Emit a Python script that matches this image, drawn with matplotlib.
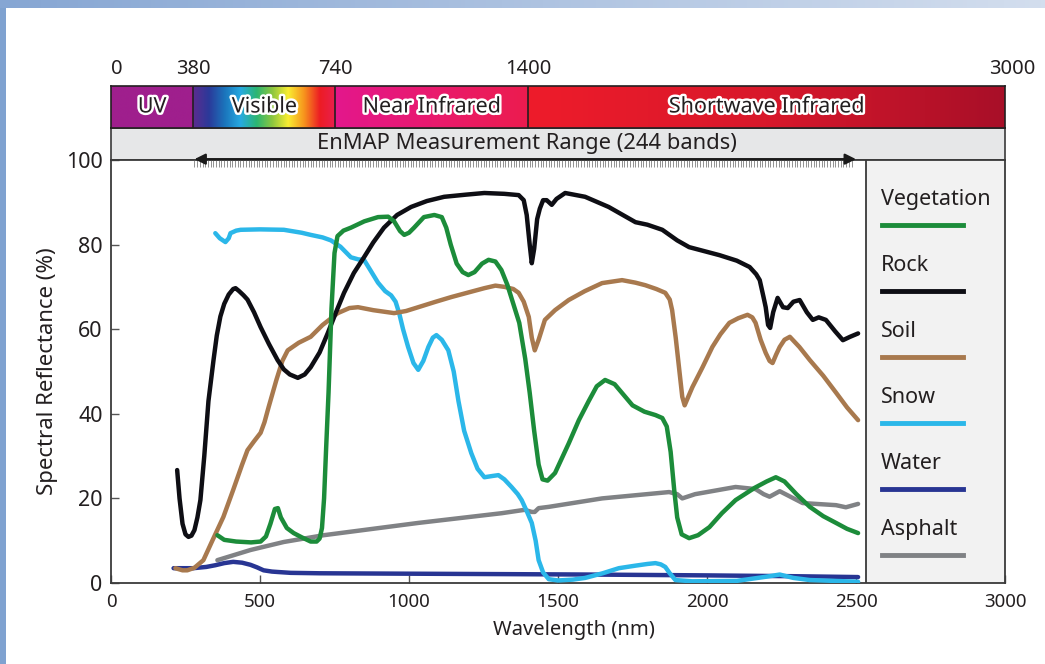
import numpy as np
import matplotlib
matplotlib.use('Agg')
import matplotlib.pyplot as plt
from matplotlib import patheffects
from matplotlib.colors import LinearSegmentedColormap
from matplotlib.lines import Line2D

plt.rcParams['font.family'] = ['Noto Sans', 'DejaVu Sans']

# spectra (wavelength nm, reflectance %)
veg_nm = [357, 380, 420, 470, 502, 520, 535, 550, 560, 570, 590, 613, 640, 670, 690,
          700, 708, 715, 722, 730, 740, 750, 760, 780, 805, 850, 896, 930, 950, 970,
          984, 1000, 1017, 1050, 1085, 1110, 1125, 1140, 1160, 1180, 1199, 1220, 1245,
          1267, 1290, 1310, 1330, 1350, 1370, 1390, 1405, 1420, 1435, 1448, 1465, 1490,
          1536, 1570, 1603, 1630, 1658, 1690, 1720, 1750, 1790, 1827, 1850, 1865, 1878,
          1890, 1900, 1915, 1940, 1970, 2008, 2050, 2096, 2160, 2200, 2231, 2260, 2300,
          2345, 2390, 2433, 2470, 2507]
veg_val = [11.3, 10.2, 9.8, 9.6, 9.8, 11, 14, 17.5, 17.7, 15.5, 13, 11.8, 10.8, 9.8, 9.8,
           10.5, 13, 20, 32, 45, 65, 78, 82, 83.3, 84, 85.5, 86.5, 86.6, 85.5, 83.2,
           82.3, 82.8, 84, 86.5, 87, 86.5, 84, 80, 75.5, 73.5, 72.8, 73.5, 75.5,
           76.4, 76, 74, 70.5, 66, 61.5, 53, 45, 36, 28, 24.5, 24.2, 26,
           33, 38.5, 43, 46.5, 48, 47, 44.5, 42, 40.5, 39.7, 39, 37, 31,
           22, 15.5, 11.5, 10.6, 11.3, 13.2, 16.5, 19.6, 22.5, 24, 25, 24, 21,
           18, 15.8, 14.2, 12.8, 11.8]

rock_nm = [222, 230, 240, 250, 260, 270, 280, 290, 300, 313, 327, 344, 355, 367, 380,
           395, 410, 418, 430, 445, 458, 480, 502, 530, 559, 580, 600, 627, 650, 670,
           700, 727, 755, 782, 815, 849, 880, 916, 960, 1007, 1060, 1118, 1190, 1253,
           1320, 1368, 1385, 1395, 1405, 1412, 1420, 1430, 1439, 1450, 1462, 1479, 1495,
           1524, 1591, 1670, 1760, 1800, 1850, 1900, 1940, 2042, 2100, 2143, 2165, 2177,
           2190, 2197, 2205, 2212, 2222, 2237, 2255, 2271, 2290, 2311, 2335, 2355, 2375,
           2399, 2430, 2456, 2480, 2507]
rock_val = [26.7, 20, 14, 11.5, 10.9, 11.2, 12.5, 15.5, 19.6, 30, 43, 52.7, 58.5, 63, 66,
            68.2, 69.5, 69.7, 69, 68, 67, 64, 60.5, 56.5, 52.7, 50.5, 49.3, 48.5, 49.3, 51,
            54.5, 59, 64, 68.6, 73.3, 77, 80.5, 84, 87, 88.9, 90.3, 91.3, 91.8, 92.2,
            92, 91.7, 90.5, 87, 80, 75.6, 79, 86, 88.5, 90.5, 90.5, 89.4, 90.8,
            92.2, 91.3, 88.9, 85.3, 84.7, 83.5, 81, 79.4, 77.5, 76.2, 74.7, 73, 71.6,
            67.5, 65.2, 61, 60.3, 64, 67.4, 65.2, 65, 66.5, 66.9, 64, 62.2, 62.8,
            62.2, 59.5, 57.4, 58.2, 59]

soil_nm = [216, 240, 256, 280, 310, 340, 377, 410, 440, 458, 480, 502, 515, 529, 555,
           575, 593, 630, 670, 710, 761, 800, 829, 880, 950, 990, 1031, 1090, 1142, 1200,
           1253, 1290, 1321, 1350, 1368, 1385, 1402, 1412, 1422, 1435, 1456, 1490, 1536,
           1590, 1648, 1715, 1760, 1793, 1830, 1860, 1875, 1883, 1895, 1906, 1917, 1925,
           1937, 1951, 1985, 2018, 2045, 2075, 2105, 2136, 2152, 2163, 2180, 2197, 2210,
           2220, 2232, 2244, 2260, 2278, 2310, 2345, 2390, 2433, 2470, 2507]
soil_val = [3.5, 3, 3, 3.6, 5.4, 10, 15.6, 22, 28, 31.4, 33.5, 35.5, 38, 41.6, 48,
            52.5, 55, 56.8, 58.2, 61, 63.8, 65, 65.2, 64.5, 63.8, 64.3, 65.2, 66.5, 67.6, 68.7,
            69.7, 70.3, 70, 69.5, 68.6, 66.5, 62.9, 58, 55, 57.5, 62.2, 64.5, 66.9,
            69, 70.9, 71.6, 71, 70.4, 69.5, 68.6, 67, 64.5, 58, 51, 44, 42,
            44, 46.3, 51, 55.8, 58.8, 61.5, 62.6, 63.4, 62.8, 61.5, 57.5, 54.4, 52.5,
            52, 54, 55.8, 57.5, 58.2, 55.8, 52.7, 49, 45, 41.5, 38.5]

snow_nm = [350, 365, 384, 395, 401, 420, 435, 500, 580, 640, 670, 710, 738, 770, 805,
           830, 849, 870, 896, 920, 940, 955, 967, 980, 997, 1015, 1031, 1048, 1065, 1080,
           1092, 1110, 1132, 1150, 1166, 1185, 1209, 1230, 1253, 1280, 1300, 1320, 1344,
           1365, 1378, 1395, 1412, 1425, 1435, 1450, 1469, 1500, 1550, 1591, 1650, 1704,
           1760, 1800, 1827, 1845, 1860, 1875, 1894, 1950, 2100, 2200, 2244, 2290, 2345,
           2507]
snow_val = [82.7, 81.5, 80.6, 81.5, 82.7, 83.3, 83.5, 83.6, 83.5, 82.8, 82.3, 81.7, 81, 79.5, 77,
            76.5, 76.4, 74, 71, 69, 68, 66.5, 63.8, 60, 55.8, 52, 50.4, 52.5, 55.8, 58,
            58.6, 57.5, 55, 50, 43, 36, 30.7, 27, 25, 25.3, 25.5, 24.5, 22.7,
            21, 19.6, 17, 14.2, 10, 5.4, 2.5, 0.9, 0.6, 0.8, 1.2, 2.3, 3.5,
            4.1, 4.5, 4.7, 4.4, 3.8, 2.3, 0.7, 0.4, 0.5, 1.5, 2.0, 1.2, 0.7,
            0.3]

water_nm = [210, 276, 320, 350, 380, 410, 440, 468, 490, 512, 540, 560, 603, 700, 1000,
            1311, 1600, 2000, 2300, 2507]
water_val = [3.5, 3.5, 3.8, 4.2, 4.7, 5.0, 4.8, 4.3, 3.7, 3.0, 2.7, 2.6, 2.4, 2.3, 2.2,
             2.1, 2.0, 1.8, 1.6, 1.4]

asph_nm = [357, 468, 580, 714, 1031, 1311, 1388, 1412, 1422, 1435, 1469, 1648, 1873,
           1900, 1917, 1960, 2096, 2163, 2190, 2210, 2244, 2321, 2433, 2466, 2507]
asph_val = [5.4, 7.8, 9.7, 11.3, 14.2, 16.5, 17.3, 16.8, 16.8, 17.7, 18, 20, 21.5,
            21, 20, 21, 22.7, 22.2, 21, 20.4, 21.7, 18.9, 18.4, 17.9, 18.7]

names = ['Vegetation', 'Rock', 'Soil', 'Snow', 'Water', 'Asphalt']
colors = ['#1c8c3a', '#0e0e14', '#a8794e', '#2bb7e9', '#283593', '#808285']
series = [(veg_nm, veg_val), (rock_nm, rock_val), (soil_nm, soil_val),
          (snow_nm, snow_val), (water_nm, water_val), (asph_nm, asph_val)]

# spectral regions bar
band_edges = [0, 380, 740, 1400, 3000]
band_names = ['UV', 'Visible', 'Near Infrared', 'Shortwave Infrared']
band_pos = [0, 0.092, 0.251, 0.467, 1.0]   # where the edges sit along the bar
measure_range = (280, 2500)
n_bands = 244

W, H = 1045, 664
INK = '#231f20'


def box(l, t, r, b):
    return [l / W, 1 - b / H, (r - l) / W, (b - t) / H]


fig = plt.figure(figsize=(W / 100, H / 100), dpi=100)
fig.patch.set_facecolor('white')

# frame decoration (blue stripes)
deco = fig.add_axes([0, 0, 1, 1], zorder=-5)
deco.set_xlim(0, W)
deco.set_ylim(H, 0)
deco.axis('off')
deco.add_patch(plt.Rectangle((0, 8), 6, H, color='#7fa2d0', lw=0))
grad = np.linspace(0, 1, 256)[None, :]
deco.imshow(grad, extent=[0, W, 8, 0], aspect='auto',
            cmap=LinearSegmentedColormap.from_list('t', ['#86a6d3', '#d3deee']))

# main axes
ax = fig.add_axes(box(111, 160, 1005, 583))
ax.set_xlim(0, 3000)
ax.set_ylim(0, 100)
for s in ax.spines.values():
    s.set_color('#3a3a3a')
    s.set_linewidth(1.3)
ax.tick_params(direction='in', length=6, width=1, color='#555555', labelcolor=INK)
ax.tick_params(axis='x', labelsize=13.5, pad=7)
ax.tick_params(axis='y', labelsize=15.5, pad=6)
ax.set_xticks(range(0, 3001, 500))
ax.set_yticks(range(0, 101, 20))
ax.set_xlabel('Wavelength (nm)', fontsize=14.5, color=INK)
ax.xaxis.set_label_coords(0.518, -0.088)
ax.set_ylabel('Spectral Reflectance (%)', fontsize=16, color=INK, labelpad=6)

# legend panel
ax.axvspan(2535, 3000, color='#f2f2f2', zorder=0, lw=0)
ax.axvline(2535, color='#3a3a3a', lw=1.3)

for (xs, ys), c in zip(series[::-1], colors[::-1]):
    ax.plot(xs, ys, color=c, lw=3.2, solid_capstyle='round', solid_joinstyle='round', zorder=3)

for i, (n, c) in enumerate(zip(names, colors)):
    yt = 0.907 - i * 0.156
    ax.text(0.861, yt, n, transform=ax.transAxes, fontsize=15.5, color=INK,
            ha='left', va='center')
    ax.add_line(Line2D([0.862, 0.953], [yt - 0.06, yt - 0.06], transform=ax.transAxes,
                       color=c, lw=3.5))

# measurement range arrow with band ticks
ax.vlines(np.linspace(measure_range[0], measure_range[1] - 15, n_bands), 98.3, 100,
          color='#666666', lw=0.5, clip_on=False, zorder=4)
ax.annotate('', xy=(measure_range[0], 100.2), xytext=(measure_range[1], 100.2),
            arrowprops=dict(arrowstyle='<|-|>', color='#1a1a1a', lw=1.6,
                            mutation_scale=16, shrinkA=0, shrinkB=0),
            annotation_clip=False, zorder=5)

# gray band with title
gax = fig.add_axes(box(111, 128, 1005, 160), zorder=-1)
gax.set_facecolor('#e6e7e8')
gax.set_xticks([])
gax.set_yticks([])
for s in gax.spines.values():
    s.set_color('#3a3a3a')
    s.set_linewidth(1.2)
gax.text(0.465, 0.5, 'EnMAP Measurement Range (244 bands)', transform=gax.transAxes,
         ha='center', va='center', fontsize=15.8, color=INK)

# spectral regions bar
bax = fig.add_axes(box(111, 86, 1005, 128))
bax.set_xticks([])
bax.set_yticks([])
for s in bax.spines.values():
    s.set_color(INK)
    s.set_linewidth(1.2)
band_cmaps = [
    ['#9f1f8d', '#9f1f8d'],
    ['#5b2c8f', '#2b3a9a', '#1b75bc', '#27aae1', '#2bb673', '#8dc63f', '#f9ed32',
     '#f7941d', '#ed1c24', '#e9204f'],
    ['#e3178c', '#e91a6e', '#ec1c4e'],
    ['#ee1c2a', '#d8182b', '#a80f28'],
]
for i, cl in enumerate(band_cmaps):
    cm = LinearSegmentedColormap.from_list('b%d' % i, cl)
    bax.imshow(grad, extent=[band_pos[i], band_pos[i + 1], 0, 1], aspect='auto', cmap=cm)
    if i > 0:
        bax.axvline(band_pos[i], color=INK, lw=1.2)
    bax.text((band_pos[i] + band_pos[i + 1]) / 2, 0.5, band_names[i], ha='center',
             va='center', fontsize=15.5, color=INK,
             path_effects=[patheffects.withStroke(linewidth=3.5, foreground='white')])
bax.set_xlim(0, 1)
bax.set_ylim(0, 1)
for i, e in enumerate(band_edges):
    dx = 4 if i == 0 else (5 if i == len(band_edges) - 1 else 0)
    bax.annotate(str(e), (band_pos[i], 1), xytext=(dx, 5), textcoords='offset points',
                 ha='center', va='bottom', fontsize=14.5, color=INK,
                 annotation_clip=False)

fig.savefig('out.png', dpi=100)
